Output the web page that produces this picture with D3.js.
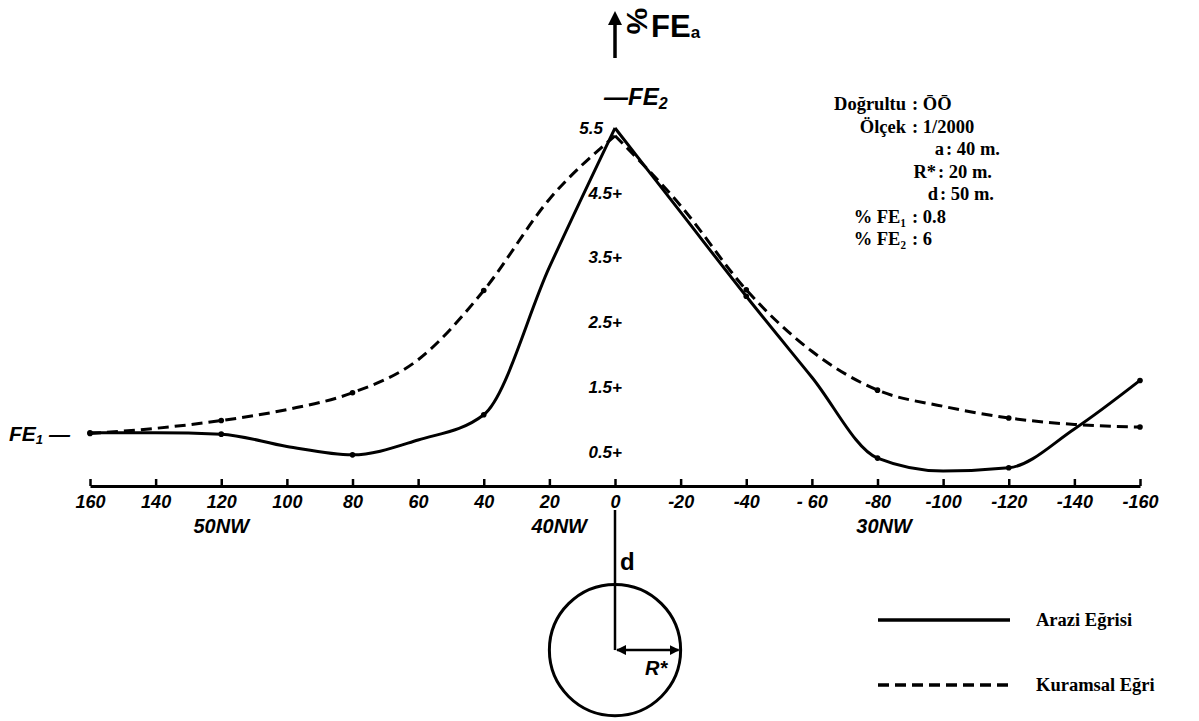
<!DOCTYPE html>
<html><head><meta charset="utf-8">
<script src="https://cdn.jsdelivr.net/npm/d3@7/dist/d3.min.js"></script>
<style>
body{margin:0;background:#fff;}
svg{display:block;}
.hand{font-family:"Liberation Sans Narrow","Liberation Sans",sans-serif;font-weight:bold;font-style:italic;fill:#000;}
.up{font-style:normal;}
.serif{font-family:"Liberation Serif","DejaVu Serif",serif;font-weight:bold;fill:#000;}
</style>
</head><body>
<svg id="c" width="1199" height="721"></svg>
<script>
// ---- data ----
const positions = [160,140,120,100,80,60,40,20,0,-20,-40,-60,-80,-100,-120,-140,-160];
const araziEgrisi = [0.79,0.79,0.77,0.58,0.45,0.68,1.07,3.35,5.5,4.2,2.9,1.65,0.4,0.2,0.25,0.85,1.6];
const kuramsalEgri = [0.78,0.86,0.98,1.15,1.41,1.92,2.99,4.4,5.38,4.3,3.0,2.05,1.45,1.2,1.02,0.92,0.88];
const xTicks = [160,140,120,100,80,60,40,20,0,-20,-40,-60,-80,-100,-120,-140,-160];
const xTickLabels = ["160","140","120","100","80","60","40","20","0","-20","-40","- 60","-80","-100","-120","-140","-160"];
const yTicks = [0.5,1.5,2.5,3.5,4.5,5.5];
const yTickLabels = ["0.5+","1.5+","2.5+","3.5+","4.5+","5.5"];
const stations = [{name:"50NW",at:120},{name:"40NW",at:17},{name:"30NW",at:-82}];
const fe1 = 0.8, fe2 = 6;
const infoLines = [
  {label:"Doğrultu", value:": ŌŌ"},
  {label:"Ölçek", value:": 1/2000"},
  {label:"a", value:": 40 m."},
  {label:"R*", value:": 20 m."},
  {label:"d", value:": 50 m."},
  {label:"% FE₁", value:": 0.8"},
  {label:"% FE₂", value:": 6"}
];
const legendItems = ["Arazi Eğrisi","Kuramsal Eğri"];
const circleR = 20, circleD = 50;

// ---- scales ----
const svg = d3.select("#c");
const x = d3.scaleLinear().domain([160,-160]).range([90,1140]);
const y = d3.scaleLinear().domain([0,5.5]).range([484,128]);
const axisY = 486;

// x axis
const ax = svg.append("g").attr("transform",`translate(0,${axisY})`)
  .call(d3.axisBottom(x).tickValues(xTicks).tickSize(-7).tickSizeOuter(0).tickPadding(8)
    .tickFormat((d,i)=>xTickLabels[i]));
ax.select(".domain").attr("stroke","#000").attr("stroke-width",3);
ax.selectAll(".tick line").attr("stroke","#000").attr("stroke-width",2.5);
ax.selectAll(".tick text").attr("class","hand").attr("font-size",18).attr("dy","0.75em");

// stations
svg.selectAll(".st").data(stations).enter().append("text")
  .attr("class","hand").attr("x",d=>x(d.at)).attr("y",533)
  .attr("text-anchor","middle").attr("font-size",20).text(d=>d.name);

// y tick labels
svg.selectAll(".yl").data(yTicks).enter().append("text")
  .attr("class","hand").attr("x",(d,i)=> i===yTicks.length-1 ? 603 : 622)
  .attr("y",d=>y(d)+6).attr("text-anchor","end").attr("font-size",17)
  .text((d,i)=>yTickLabels[i]);

// top FEa arrow
const defs = svg.append("defs");
defs.append("marker").attr("id","ah").attr("viewBox","0 0 10 10").attr("refX",5).attr("refY",5)
  .attr("markerWidth",4).attr("markerHeight",4).attr("orient","auto-start-reverse")
  .append("path").attr("d","M0,0L10,5L0,10z").attr("fill","#000");
defs.append("marker").attr("id","ah2").attr("viewBox","0 0 10 10").attr("refX",9).attr("refY",5)
  .attr("markerWidth",4).attr("markerHeight",4).attr("orient","auto-start-reverse")
  .append("path").attr("d","M0,0L10,5L0,10z").attr("fill","#000");
svg.append("line").attr("x1",x(0)).attr("x2",x(0)).attr("y1",58).attr("y2",18)
  .attr("stroke","#000").attr("stroke-width",3.5).attr("marker-end","url(#ah)");
svg.append("text").attr("class","hand up").attr("font-size",30)
  .attr("transform","translate(637,21) rotate(90)").attr("text-anchor","middle").attr("dy","0.35em").text("%");
const fea = svg.append("text").attr("class","hand up").attr("x",651).attr("y",37).attr("font-size",31);
fea.append("tspan").text("FE");
fea.append("tspan").attr("font-size",17).attr("dy",1).text("a");

// FE2 marker
const fe2t = svg.append("text").attr("class","hand").attr("x",604).attr("y",y(fe2)+9).attr("font-size",24);
fe2t.append("tspan").text("—FE");
fe2t.append("tspan").attr("font-size",16).attr("dy",4).text("2");

// FE1 marker
const fe1t = svg.append("text").attr("class","hand").attr("x",9).attr("y",y(fe1)+9).attr("font-size",21);
fe1t.append("tspan").text("FE");
fe1t.append("tspan").attr("font-size",13).attr("dy",3).text("1");
fe1t.append("tspan").attr("dy",-3).attr("font-size",21).text(" —");

// curves, split at the peak
function seriesPts(vals){ return positions.map((p,i)=>({p, v:vals[i]})); }
const line = d3.line().x(d=>x(d.p)).y(d=>y(d.v)).curve(d3.curveMonotoneX);
function drawSeries(vals, dash){
  const pts = seriesPts(vals);
  const left = pts.filter(d=>d.p>=0), right = pts.filter(d=>d.p<=0);
  [left,right].forEach(part=>{
    svg.append("path").attr("d",line(part)).attr("fill","none").attr("stroke","#000")
      .attr("stroke-width",3).attr("stroke-linejoin","round")
      .attr("stroke-dasharray",dash||null);
  });
  svg.selectAll(null).data(pts.filter(d=>d.p!==0 && d.p%40===0)).enter().append("circle")
    .attr("cx",d=>x(d.p)).attr("cy",d=>y(d.v)).attr("r",2.8).attr("fill","#000");
}
drawSeries(araziEgrisi, null);
drawSeries(kuramsalEgri, "11,6");

// info block
const infoY0 = 110, infoDy = 22.5;
const labelEnd = [906,906,944,936,938,906,906];
const valueStart = [912,912,946,938,940,912,912];
svg.selectAll(".il").data(infoLines).enter().append("text").attr("class","serif")
  .attr("x",(d,i)=>labelEnd[i]).attr("y",(d,i)=>infoY0+i*infoDy).attr("text-anchor","end").attr("font-size",18.5)
  .text(d=>d.label);
svg.selectAll(".iv").data(infoLines).enter().append("text").attr("class","serif")
  .attr("x",(d,i)=>valueStart[i]).attr("y",(d,i)=>infoY0+i*infoDy).attr("font-size",18.5)
  .text(d=>d.value);

// circle diagram
const pu = x(0)-x(1);
const cx = x(0), cy = axisY + circleD*pu, r = circleR*pu;
svg.append("circle").attr("cx",cx).attr("cy",cy).attr("r",r).attr("fill","none").attr("stroke","#000").attr("stroke-width",3);
svg.append("line").attr("x1",cx).attr("x2",cx).attr("y1",510).attr("y2",cy).attr("stroke","#000").attr("stroke-width",2.5);
svg.append("line").attr("x1",cx+2).attr("x2",cx+r-2).attr("y1",cy).attr("y2",cy).attr("stroke","#000").attr("stroke-width",2.5)
  .attr("marker-start","url(#ah2)").attr("marker-end","url(#ah2)");
svg.append("text").attr("class","hand up").attr("x",cx+5).attr("y",cy-80).attr("font-size",24).text("d");
svg.append("text").attr("class","hand").attr("x",cx+30).attr("y",cy+25).attr("font-size",20).text("R*");

// legend
const lg = svg.append("g");
legendItems.forEach((t,i)=>{
  const ly = 620 + i*65;
  lg.append("line").attr("x1",878).attr("x2",1010).attr("y1",ly).attr("y2",ly).attr("stroke","#000")
    .attr("stroke-width",3.5).attr("stroke-dasharray", i===1 ? "11,6" : null);
  lg.append("text").attr("class","serif").attr("x",1036).attr("y",ly+6).attr("font-size",18.5).text(t);
});
</script>
</body></html>
